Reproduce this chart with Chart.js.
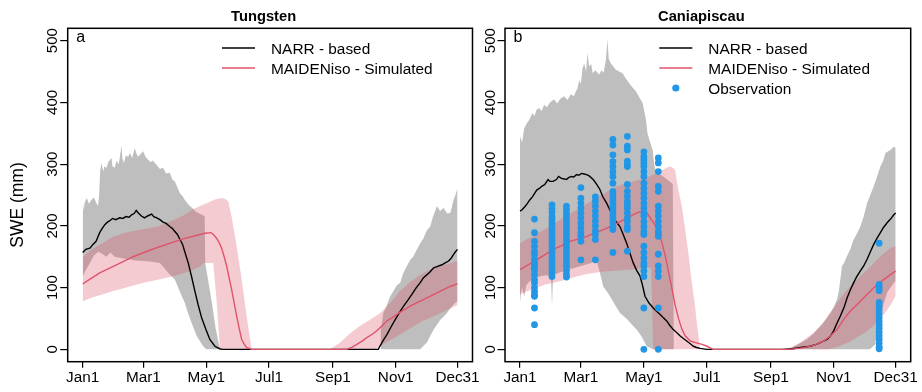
<!DOCTYPE html>
<html>
<head>
<meta charset="utf-8">
<script src="https://cdn.jsdelivr.net/npm/chart.js@4.4.1/dist/chart.umd.min.js"></script>
<style>
  html, body { margin: 0; padding: 0; background: #fff; }
  #wrap { position: relative; width: 922px; height: 392px; overflow: hidden; }
  .panel { position: absolute; top: 0; }
  #panelA { left: 0; }
  #panelB { left: 480px; }
</style>
</head>
<body>
<div id="wrap">
  <div class="panel" id="panelA"><canvas id="chartA" width="488" height="392"></canvas></div>
  <div class="panel" id="panelB"><canvas id="chartB" width="442" height="392"></canvas></div>
</div>
<script>
// axis ticks (day of year)
const xTickDays = [1, 60, 121, 182, 244, 305, 365];
const xTickLabels = ['Jan1', 'Mar1', 'May1', 'Jul1', 'Sep1', 'Nov1', 'Dec31'];
const yTickValues = [0, 100, 200, 300, 400, 500];

// --- Tungsten (a): [day, SWE mm]
const aNarr = [[1,157],[4,162],[8,164],[11,170],[14,175],[17.5,189],[20,196],[22.5,202],[25,206],[27,208],[30,212],[33,210],[37,213],[40,212],[43,215],[46,214],[48.5,218],[51,220],[53,225],[55,221],[58,216],[61,213],[64,216],[68,219],[70,215],[73,213],[76,210],[79,206],[82,204],[85.5,199],[88,196],[90.5,191],[93,186],[95.5,178],[98,170],[100,159],[103.5,140],[106.7,118],[110,94],[113,73],[116.5,51],[120.7,32],[124.5,16],[129.4,5],[134,1],[137,0],[288,0],[292,12],[296.4,24],[300,35],[304.5,48],[308,58],[312.6,70],[317,80],[320.7,89],[325,100],[328.8,108],[332,116],[335.3,121],[338,125],[341.8,132],[345,134],[349.9,137],[353,140],[356.4,143],[359,148],[361.2,154],[363,158],[365,162]];
const aSim = [[1,106],[17.5,124],[33.8,137],[50,150],[66,160.5],[82.4,170],[98.6,179],[114.8,186],[120,188],[125.5,189],[128,186],[131,180],[133.5,173],[135.9,164],[138.4,150],[140.8,135],[143.2,116],[145.6,97],[148,76],[150.5,54],[153,34],[155.4,16],[158,8],[160.2,3],[165,0],[257.5,0],[262,3],[267.2,8],[272,13],[276.9,19],[281.8,24],[286.7,30],[291.5,38],[296.4,46],[301.3,51],[306.2,56.6],[311,62],[316,67],[320.8,71.5],[325.6,75.5],[330.5,79.5],[335.3,83.5],[340.2,87.5],[345.1,91.6],[350,95.6],[354.8,99.7],[359.7,103],[365,106]];
const aGreyHi = [[1,240],[2,225],[3,238],[5,245],[7,236],[9.4,242],[12,246],[14,238],[15.9,232],[17,250],[18,290],[19.2,302],[21,288],[22,296],[24.1,294],[26,304],[28.9,310],[30,296],[32.1,294],[34,306],[36,300],[38,322],[38.6,331],[39.5,310],[40.9,302],[43,314],[45.1,312],[47,318],[49,310],[51.6,326],[53,318],[54.8,312],[57,316],[59.7,321],[62,312],[64.5,307],[67,303],[69,306],[72.7,299],[76,292],[79,294],[82,285],[85.6,286],[88,275],[90.5,272],[92,266],[95.4,253],[98,248],[100.2,242],[103,236],[105.1,232],[108,228],[110,224],[114,220],[117,218],[119.5,215],[120,140],[124,100],[127,70],[130,35],[134.3,0],[290,0],[290.5,32],[293,59],[296,70],[299.6,86],[303,95],[306,104],[309.4,108],[312,122],[315,132],[319.1,145],[322,150],[325,160],[328.8,172],[332,180],[335,192],[338.5,199],[341,214],[345.1,232],[348,224],[351.5,229],[355,220],[358,221],[361.2,242],[363,250],[365,261]];
const aGreyLo = [[1,118],[4,128],[8,140],[12,152],[16,158],[20,155],[24,150],[28,157],[32,150],[38,148],[45,146],[52,144],[60,143],[68,142],[76,140],[80,132],[84,124],[90.5,113],[95,95],[100,76],[103,60],[106.7,43],[111.6,22],[118,5],[121,0],[328.8,0],[332,6],[335.3,11],[338,20],[341.8,32],[345,40],[348.3,48],[351.5,53],[354.8,59],[358,66],[361.2,73],[365,78]];
const aBandHi = [[1,150],[10,162],[20,172],[30,182],[42,189],[58,194],[74,199],[90,210],[100,218],[107,226],[115,232],[123,238],[130,243],[136,245],[140,243],[142.3,240],[145.6,215],[150.5,167],[155.4,113],[160.2,54],[165,0],[241,0],[251,11],[260,25],[270,38],[280,48],[290,59],[300,76],[309,94],[318,108],[329,121],[338,129],[348,135],[357,139],[365,143]];
const aBandLo = [[1,78],[10,84],[20,89],[30,94],[45,101],[60,108],[75,113],[90,119],[100,124],[107,128],[114,133],[119,140],[127.8,140],[131,80],[134.3,0],[285,0],[292,8],[300,15],[310,25],[320,35],[330,45],[340,52],[350,60],[358,66],[365,72]];

// --- Caniapiscau (b)
const bNarr = [[1,224],[3,226],[5.6,231],[8,236],[10.4,242],[13,247],[15.3,253],[17.2,258],[20.1,261],[22,264],[25,267],[28.2,275],[30,272],[33,272],[36.3,275],[38.3,280],[41.2,277],[44,276],[46,275],[48,278],[50.9,280],[53,279],[55.8,283],[58,282],[60.6,285],[63,284],[65.5,283],[68,281],[71.9,275],[75,268],[78.4,259],[81,248],[84.9,237],[88,226],[91.3,216],[94,207],[97.8,199],[101,186],[104.3,172],[107,158],[110.7,140],[114,128],[117.2,119],[119.5,105],[122.1,86],[126,75],[130.1,67],[133,62],[136.6,57],[140,51],[143.1,46],[146,39],[149.5,32],[153,27],[156,22],[159,18],[162.5,13.5],[166,9],[169,5],[172,3],[175.5,1.6],[182,0],[255,0],[265,1],[272.6,3],[282.3,5],[288,8],[292,11],[298.5,16],[302,22],[304.9,30],[308,42],[311.4,54],[315,68],[317.9,83],[321,96],[324.3,108],[327,117],[330.8,127],[334,135],[337.3,146],[340.5,158],[343.7,170],[347,180],[350.2,189],[353,197],[356.7,205],[360,211],[363.2,218],[365,221]];
const bSim = [[1,129],[9,137],[17.2,145.5],[25,153],[33.4,162],[41.5,168],[49.5,175],[57.5,179],[65.8,183],[74,189],[82,194],[90,200],[98.1,207],[106,214],[114.3,221],[118,223],[120.8,224],[124,221],[127.2,213],[130.5,205],[133,197],[135.4,189],[138.6,172.5],[141.8,151],[145.1,124],[148.3,97],[151.5,70],[154.8,48.5],[158,32],[161.2,21.6],[166.1,13.5],[170.9,10.8],[177.4,8],[182.3,5],[188,0],[262.8,0],[270,1.5],[275.8,2.7],[285.5,6.5],[295.2,13.5],[301.7,21.6],[308.2,32],[314.6,48.5],[321.1,62],[327.6,72.7],[334,83.5],[340.5,94],[347,105],[353.4,113],[359.9,121],[365,126.6]];
const bGreyHi = [[1,345],[3,335],[5,358],[7.5,366],[10,372],[13,383],[15,378],[17,388],[19.4,391],[22,386],[24.3,396],[27,392],[30,400],[34,405],[37,398],[40,406],[43.7,410],[47,404],[50.2,413],[53,410],[56.7,423],[58.3,436],[60,430],[61.5,455],[63.2,463],[65,450],[66.4,480],[68,458],[70,462],[71.3,447],[74,452],[77.7,445],[80,452],[82,448],[84.2,469],[85.8,502],[87,470],[89,463],[91.5,458],[93.8,453],[97,450],[100.4,447],[103,440],[106.8,431],[110,424],[113.3,418],[116,410],[119.8,399],[121.5,385],[123,372],[124.5,350],[126.2,340],[129.5,323],[131,300],[133,285],[138,282],[143,276],[149,268],[150,0],[261,0],[270,8],[279,16],[285,25],[292,38],[297,48],[301.7,59],[305,68],[308.2,81],[310,95],[313,135],[315,140],[317.9,151],[321,162],[324.3,178],[327,186],[330.8,199],[334,215],[337.3,237],[340,248],[343.7,264],[347,280],[350.2,296],[353,306],[355.1,318],[357,320],[359.9,323],[363.2,328],[365,326]];
const bGreyLo = [[1,75],[2,92],[3,100],[5,85],[7,104],[10,110],[15,115],[20,118],[26,120],[31,118],[32,70],[33,120],[40,125],[50,130],[60,135],[70,140],[74,145],[76,140],[78.4,124],[81.6,102],[85,94],[88.1,86],[92,75],[97.8,59],[104,50],[110.7,38],[115,30],[119,20],[123.7,5],[130,0],[340,0],[345,8],[347,27],[350.2,54],[353,72],[356.7,92],[360,100],[363.2,108],[365,110]];
const bBandHi = [[1,172],[7,178],[13.6,183],[20,190],[29.8,199],[40,210],[50,220],[62.2,232],[72,242],[83,253],[94.6,264],[105,270],[115,274],[123.7,278],[130,283],[135,287],[139.8,291],[143,294],[146.3,296],[149,294],[151.2,291],[154,262],[157.7,232],[161,195],[164.1,156],[167,115],[170.6,70],[173,33],[175.5,0],[259.6,0],[266,5],[272.6,11],[279,19],[285.5,27],[295.2,43],[301,58],[308.2,75],[313,86],[317.9,97],[327.6,113],[337.3,129],[347,145],[353,155],[359.9,164],[365,167]];
const bBandLo = [[1,89],[6,93],[12.4,97],[19,101],[25.3,105],[33,108],[41.5,111],[50,115],[57.7,119],[66,122],[73.8,124],[82,126],[90,127],[98,128],[106.2,129],[114,130],[122.4,132],[128,132],[130,0],[300,0],[310,5],[320,12],[328,20],[335,27],[342,36],[348,46],[355,60],[360,72],[365,86]];

// observation survey days and SWE values
const obsDays = [15, 32, 46, 60, 74, 91, 105, 121, 135, 349];
const obsSwe = [
  [211, 189, 175, 167, 159, 154, 146, 140, 137, 132, 129, 121, 113, 108, 100, 94, 88, 86, 67, 40],
  [234, 228, 222, 215, 210, 204, 199, 193, 188, 182, 177, 172, 166, 161, 156, 150, 145, 140, 134, 129, 124, 118],
  [232, 226, 220, 214, 208, 202, 196, 190, 184, 178, 172, 166, 160, 154, 148, 142, 135, 128, 122, 117],
  [262, 245, 237, 229, 221, 213, 205, 197, 189, 183, 175, 145],
  [247, 240, 232, 224, 216, 208, 200, 192, 186, 178, 145],
  [340, 331, 315, 304, 296, 288, 280, 269, 256, 250, 245, 240, 234, 229, 224, 218, 213, 207, 199, 194, 157],
  [345, 329, 323, 305, 299, 296, 267, 256, 248, 240, 234, 229, 221, 213, 207, 199, 194, 159],
  [320, 312, 307, 302, 296, 288, 280, 269, 261, 253, 245, 237, 229, 221, 216, 207, 199, 191, 186, 167, 157, 148, 140, 135, 127, 118, 67, 0],
  [310, 302, 288, 264, 256, 232, 224, 216, 207, 199, 191, 186, 183, 154, 135, 127, 118, 67, 0],
  [172, 105, 100, 95, 76, 70, 64, 58, 52, 46, 40, 34, 28, 22, 16, 10, 4, 1]
];

const FONT = '"Liberation Sans", Arial, sans-serif';
const GREY = '#BEBEBE';
const PINK = 'rgba(223, 83, 107, 0.3)';
const RED = '#DF536B';
const BLUE = '#2297E6';
const NONE = 'rgba(0,0,0,0)';

Chart.defaults.font.family = FONT;

function pts(pairs) {
    return pairs.map(p => ({ x: p[0], y: p[1] }));
}

function obsPoints() {
    const out = [];
    obsDays.forEach((d, i) => obsSwe[i].forEach(v => out.push({ x: d, y: v })));
    return out;
}

// draws the R style box, title, panel letter, rotated y labels and legend
const decorPlugin = {
    id: 'decor',
    afterDraw(chart, args, opts) {
        const ctx = chart.ctx;
        const ca = chart.chartArea;
        ctx.save();

        ctx.strokeStyle = '#000';
        ctx.lineWidth = 1.5;
        ctx.strokeRect(ca.left, ca.top, ca.right - ca.left, ca.bottom - ca.top);

        ctx.fillStyle = '#000';
        ctx.font = 'bold 14.7px ' + FONT;
        ctx.textAlign = 'center';
        ctx.textBaseline = 'alphabetic';
        ctx.fillText(opts.title, (ca.left + ca.right) / 2 - 6.5, 21);

        ctx.font = '16px ' + FONT;
        ctx.textAlign = 'left';
        ctx.fillText(opts.letter, ca.left + 8.5, 41.5);

        // y tick labels, rotated like R's default
        const ys = chart.scales.y;
        ctx.font = '15px ' + FONT;
        ys.ticks.forEach(t => {
            const py = ys.getPixelForValue(t.value);
            ctx.save();
            ctx.translate(ca.left - 10.4, py);
            ctx.rotate(-Math.PI / 2);
            ctx.textAlign = 'center';
            ctx.textBaseline = 'alphabetic';
            ctx.fillText(String(t.value), 0, 0);
            ctx.restore();
        });

        if (opts.yTitle) {
            ctx.save();
            ctx.translate(18.3, 205);
            ctx.rotate(-Math.PI / 2);
            ctx.font = '17.5px ' + FONT;
            ctx.textAlign = 'center';
            ctx.textBaseline = 'middle';
            ctx.fillText(opts.yTitle, 0, 0);
            ctx.restore();
        }

        // legend inside the plot
        const lx = ca.left + 154.3;
        let ly = 48.5;
        chart.data.datasets.filter(ds => ds.inLegend).forEach(ds => {
            if (ds.showLine === false) {
                ctx.fillStyle = ds.pointBackgroundColor;
                ctx.beginPath();
                ctx.arc(lx + 16.5, ly - 0.5, 3.6, 0, Math.PI * 2);
                ctx.fill();
            } else {
                ctx.strokeStyle = ds.borderColor;
                ctx.lineWidth = 1.5;
                ctx.beginPath();
                ctx.moveTo(lx, ly - 0.5);
                ctx.lineTo(lx + 33, ly - 0.5);
                ctx.stroke();
            }
            ctx.fillStyle = '#000';
            ctx.font = '15.4px ' + FONT;
            ctx.textAlign = 'left';
            ctx.textBaseline = 'middle';
            ctx.fillText(ds.label, lx + 49, ly + 0.8);
            ly += 20;
        });

        ctx.restore();
    }
};

function buildChart(canvasId, panel) {
    const datasets = [
        { label: 'grey high', data: pts(panel.greyHi), fill: '+1', backgroundColor: GREY, borderColor: NONE, borderWidth: 0, pointRadius: 0, order: 6 },
        { label: 'grey low', data: pts(panel.greyLo), fill: false, borderColor: NONE, borderWidth: 0, pointRadius: 0, order: 6 },
        { label: 'band high', data: pts(panel.bandHi), fill: '+1', backgroundColor: PINK, borderColor: NONE, borderWidth: 0, pointRadius: 0, order: 5 },
        { label: 'band low', data: pts(panel.bandLo), fill: false, borderColor: NONE, borderWidth: 0, pointRadius: 0, order: 5 },
        { label: 'NARR - based', inLegend: true, data: pts(panel.narr), borderColor: '#000', borderWidth: 1.4, pointRadius: 0, fill: false, order: 3 },
        { label: 'MAIDENiso - Simulated', inLegend: true, data: pts(panel.sim), borderColor: RED, borderWidth: 1.4, pointRadius: 0, fill: false, order: 2 }
    ];
    if (panel.obs) {
        datasets.push({ label: 'Observation', inLegend: true, data: panel.obs, showLine: false, pointRadius: 3.4, pointBackgroundColor: BLUE, pointBorderWidth: 0, borderColor: BLUE, order: 1 });
    }

    return new Chart(document.getElementById(canvasId), {
        type: 'line',
        data: { datasets },
        options: {
            responsive: false,
            animation: false,
            devicePixelRatio: 1,
            elements: { line: { tension: 0 } },
            layout: { padding: { top: 28.3, right: panel.padRight, bottom: 0, left: 0 } },
            plugins: {
                legend: { display: false },
                tooltip: { enabled: false },
                decor: { title: panel.title, letter: panel.letter, yTitle: panel.yTitle }
            },
            scales: {
                x: {
                    type: 'linear',
                    min: -13.56,
                    max: 379.56,
                    afterBuildTicks: s => { s.ticks = xTickDays.map(v => ({ value: v })); },
                    afterFit: s => { s.height = 30.3; s.paddingLeft = 0; s.paddingRight = 0; },
                    ticks: {
                        autoSkip: false, maxRotation: 0, minRotation: 0, padding: 1,
                        color: '#000', font: { size: 15.3 },
                        callback: (v, i) => xTickLabels[i]
                    },
                    grid: { drawOnChartArea: false, tickLength: 6, color: '#000', lineWidth: 1.2 },
                    border: { display: false }
                },
                y: {
                    type: 'linear',
                    min: -20,
                    max: 520,
                    afterBuildTicks: s => { s.ticks = yTickValues.map(v => ({ value: v })); },
                    afterFit: s => { s.width = panel.left; s.paddingTop = 0; s.paddingBottom = 0; },
                    ticks: { display: false },
                    grid: { drawOnChartArea: false, tickLength: 7.5, color: '#000', lineWidth: 1.2 },
                    border: { display: false }
                }
            }
        },
        plugins: [decorPlugin]
    });
}

buildChart('chartA', {
    title: 'Tungsten', letter: 'a', yTitle: 'SWE (mm)',
    left: 67.7, padRight: 15.5,
    narr: aNarr, sim: aSim, greyHi: aGreyHi, greyLo: aGreyLo, bandHi: aBandHi, bandLo: aBandLo
});

buildChart('chartB', {
    title: 'Caniapiscau', letter: 'b', yTitle: null,
    left: 25, padRight: 11.3,
    narr: bNarr, sim: bSim, greyHi: bGreyHi, greyLo: bGreyLo, bandHi: bBandHi, bandLo: bBandLo,
    obs: obsPoints()
});
</script>
</body>
</html>
